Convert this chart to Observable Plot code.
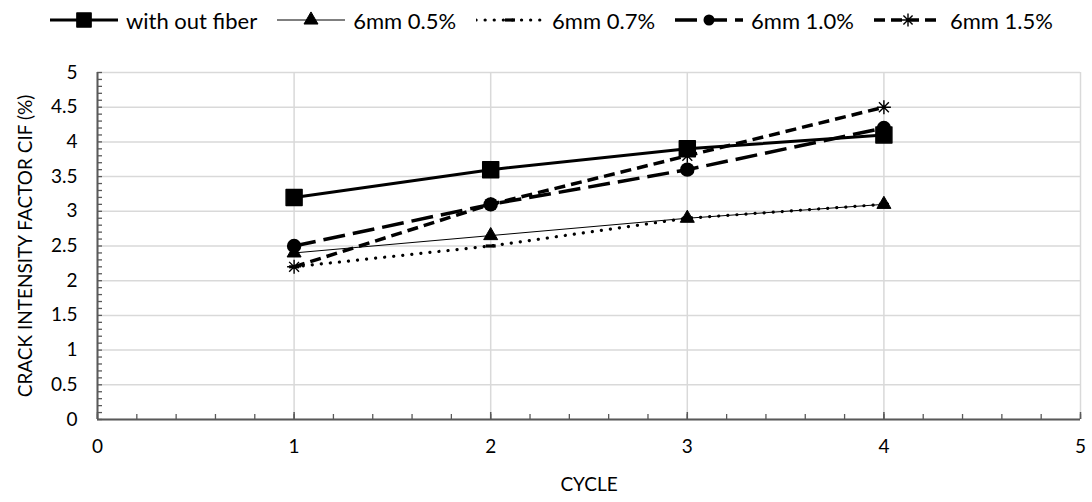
<!DOCTYPE html>
<html><head><meta charset="utf-8">
<script src="https://cdn.jsdelivr.net/npm/d3@7"></script>
<script src="https://cdn.jsdelivr.net/npm/@observablehq/plot@0.6"></script>
<style>
body{margin:0;background:#fff;font-family:Lato,"Open Sans",sans-serif;color:#000;}
#legend{display:flex;align-items:center;height:40px;width:1092px;padding-left:50px;box-sizing:border-box;font-size:22px;}
.item{display:flex;align-items:center;margin-right:20px;}
.item svg{margin-right:8px;}
</style></head><body>
<div id="legend"></div>
<div id="chart"></div>
<script>
// ---- data ----
const cycles = [1, 2, 3, 4];
const seriesNames = ["with out fiber", "6mm 0.5%", "6mm 0.7%", "6mm 1.0%", "6mm 1.5%"];
const withoutFiber = [3.2, 3.6, 3.9, 4.1];
const fiber6mm05 = [2.4, 2.65, 2.9, 3.1];
const fiber6mm07 = [2.2, 2.5, 2.9, 3.1];
const fiber6mm10 = [2.5, 3.1, 3.6, 4.2];
const fiber6mm15 = [2.2, 3.1, 3.8, 4.5];
const xTicks = [0, 1, 2, 3, 4, 5];
const yTicks = [0, 0.5, 1, 1.5, 2, 2.5, 3, 3.5, 4, 4.5, 5];
const xLabel = "CYCLE";
const yLabel = "CRACK INTENSITY FACTOR CIF (%)";

// ---- styles ----
const dashSymbol = {draw(ctx, size){ const r = Math.sqrt(size/Math.PI); ctx.rect(-r, -1.6, 2*r, 3.2); }};
const starSymbol = {draw(ctx, size){
  const r = Math.sqrt(size/Math.PI);
  for (let k = 0; k < 4; k++) { const a = k*Math.PI/4; ctx.moveTo(-r*Math.cos(a), -r*Math.sin(a)); ctx.lineTo(r*Math.cos(a), r*Math.sin(a)); }
}};
const styles = [
  {sw: 3, dash: null, cap: "butt", symbol: "square", r: 9, fill: "#000", mstroke: "#000", msw: 1.5, lr: 8},
  {sw: 1, dash: null, cap: "butt", symbol: "triangle", r: 5.2, fill: "#000", mstroke: "#000", msw: 1, lr: 5.2},
  {sw: 3.2, dash: "0.1 9", cap: "round", symbol: dashSymbol, r: 5, fill: "#000", mstroke: "none", msw: 0, lr: 5},
  {sw: 3.5, dash: "22 8", cap: "butt", symbol: "circle", r: 7.2, fill: "#000", mstroke: "none", msw: 0, lr: 5.5},
  {sw: 3.5, dash: "11 6", cap: "butt", symbol: starSymbol, r: 7, fill: "none", mstroke: "#000", msw: 1.4, lr: 6.5}
];
const values = [withoutFiber, fiber6mm05, fiber6mm07, fiber6mm10, fiber6mm15];
const rows = values.flatMap((vals, i) => vals.map((v, j) => ({series: seriesNames[i], idx: i, cycle: cycles[j], value: v})));

// ---- layout ----
const W = 1092, H = 462, mL = 97, mR = 12, mT = 32, mB = 83;
const plotW = W - mL - mR, plotH = H - mT - mB;
const minorY = d3.range(0, 5.0001, 0.1);
const minorX = d3.range(0, 5.0001, 0.2);
const axisColor = "#595959", gridColor = "#d9d9d9";

const marks = [
  Plot.gridY(yTicks, {stroke: gridColor, strokeOpacity: 1, strokeWidth: 1.5}),
  Plot.gridX(xTicks, {stroke: gridColor, strokeOpacity: 1, strokeWidth: 1.5}),
  Plot.ruleY([0], {stroke: axisColor, strokeWidth: 2}),
  Plot.ruleX([0], {stroke: axisColor, strokeWidth: 2}),
  Plot.tickY(minorY, {y: d => d, stroke: axisColor, strokeWidth: 1.3, insetRight: plotW - 5}),
  Plot.tickX(minorX, {x: d => d, stroke: axisColor, strokeWidth: 1.3, insetTop: plotH - 5}),
  Plot.tickX(xTicks, {x: d => d, stroke: axisColor, strokeWidth: 1.5, insetTop: plotH - 7}),
  Plot.axisX({ticks: xTicks, tickSize: 0, tickPadding: 20, label: null, tickFormat: d => String(d), fontSize: 19}),
  Plot.axisY({ticks: yTicks, tickSize: 0, tickPadding: 20, label: null, tickFormat: d => String(d), fontSize: 19}),
  Plot.text([xLabel], {frameAnchor: "bottom", dy: 71, fontSize: 19}),
  Plot.text([yLabel], {frameAnchor: "left", textAnchor: "middle", rotate: -90, dx: -72, fontSize: 19})
];
styles.forEach((s, i) => {
  const d = rows.filter(r => r.idx === i);
  marks.push(Plot.line(d, {x: "cycle", y: "value", stroke: "#000", strokeWidth: s.sw, strokeDasharray: s.dash, strokeLinecap: s.cap}));
  marks.push(Plot.dot(d, {x: "cycle", y: "value", symbol: () => s.symbol, r: s.r, fill: s.fill, stroke: s.mstroke, strokeWidth: s.msw, strokeLinejoin: "round"}));
});

const chart = Plot.plot({
  width: W, height: H, marginLeft: mL, marginRight: mR, marginTop: mT, marginBottom: mB,
  style: {fontFamily: "Lato, 'Open Sans', sans-serif", fontSize: "19px", color: "#000", background: "#fff", overflow: "visible"},
  x: {domain: [0, 5]},
  y: {domain: [0, 5]},
  symbol: {type: "identity"},
  marks
});
document.getElementById("chart").appendChild(chart);

// ---- legend ----
const legend = d3.select("#legend");
styles.forEach((s, i) => {
  const item = legend.append("div").attr("class", "item");
  const svg = item.append("svg").attr("width", 68).attr("height", 24);
  svg.append("line").attr("x1", 0).attr("x2", 68).attr("y1", 12).attr("y2", 12)
    .attr("stroke", "#000").attr("stroke-width", s.sw).attr("stroke-dasharray", s.dash).attr("stroke-linecap", s.cap);
  const symType = typeof s.symbol === "string" ? {square: d3.symbolSquare, triangle: d3.symbolTriangle, circle: d3.symbolCircle}[s.symbol] : s.symbol;
  svg.append("path").attr("transform", "translate(34,12)")
    .attr("d", d3.symbol(symType, s.lr * s.lr * Math.PI)())
    .attr("fill", s.fill).attr("stroke", s.mstroke === "none" ? null : s.mstroke).attr("stroke-width", s.msw).attr("stroke-linejoin", "round");
  item.append("span").text(seriesNames[i]);
});
</script>
</body></html>
